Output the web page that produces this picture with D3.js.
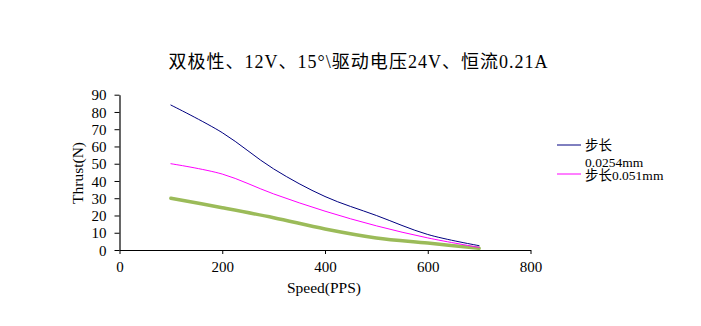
<!DOCTYPE html>
<html>
<head>
<meta charset="utf-8">
<script src="https://cdn.jsdelivr.net/npm/d3@7"></script>
<style>
  html, body { margin: 0; padding: 0; background: #fff; }
  svg text { font-family: "Liberation Serif", "Noto Sans CJK SC", serif; fill: #000; }
</style>
</head>
<body>
<svg id="chart" width="701" height="326"></svg>
<script>
// Thrust vs. speed for three step sizes
const speeds = [100, 200, 300, 400, 500, 600, 700];
const thrustStep0254 = [84, 68, 47, 31, 20, 9, 2.5];
const thrustStep051 = [50, 44, 32.5, 22.5, 14, 7, 1.5];
const thrustThird = [30, 24.5, 18.7, 12.2, 7, 4, 1];

const xTicks = [0, 200, 400, 600, 800];
const yTicks = [0, 10, 20, 30, 40, 50, 60, 70, 80, 90];

const titleText = "双极性、12V、15°\\驱动电压24V、恒流0.21A";
const xLabel = "Speed(PPS)";
const yLabel = "Thrust(N)";

const series = [
  { name: "步长0.0254mm", values: thrustStep0254, color: "#000080", width: 1 },
  { name: "步长0.051mm", values: thrustStep051, color: "#FF00FF", width: 1 },
  { name: "", values: thrustThird, color: "#9BBB59", width: 3.5 }
];

const svg = d3.select("#chart");
const plot = { left: 119.5, right: 530.5, top: 94.7, bottom: 250 };

const x = d3.scaleLinear().domain([0, 800]).range([plot.left, plot.right]);
const y = d3.scaleLinear().domain([0, 90]).range([plot.bottom, plot.top]);

// Title
svg.append("text")
  .attr("x", 358).attr("y", 68)
  .attr("text-anchor", "middle")
  .attr("font-size", 18)
  .attr("textLength", 379)
  .attr("lengthAdjust", "spacing")
  .text(titleText);

// Axes
const xAxis = svg.append("g")
  .attr("transform", `translate(0,${plot.bottom})`)
  .call(d3.axisBottom(x).tickValues(xTicks).tickSize(4).tickSizeOuter(0).tickFormat(d3.format("d")));
const yAxis = svg.append("g")
  .attr("transform", `translate(${plot.left},0)`)
  .call(d3.axisLeft(y).tickValues(yTicks).tickSize(5).tickSizeOuter(0).tickFormat(d3.format("d")));

[xAxis, yAxis].forEach(g => {
  g.select(".domain").attr("stroke", "#000").attr("stroke-width", 1.2);
  g.selectAll(".tick line").attr("stroke", "#000");
  g.selectAll(".tick text")
    .attr("font-family", "'Liberation Serif', serif")
    .attr("font-size", 15).attr("fill", "#000");
});
xAxis.selectAll(".tick text").attr("dy", null).attr("y", 22);
yAxis.selectAll(".tick text").attr("x", -13).attr("dy", "0.34em");

// Axis titles
svg.append("text")
  .attr("x", 324).attr("y", 293)
  .attr("text-anchor", "middle")
  .attr("font-size", 15.5)
  .text(xLabel);
svg.append("text")
  .attr("transform", "translate(83,173) rotate(-90)")
  .attr("text-anchor", "middle")
  .attr("font-size", 15.5)
  .text(yLabel);

// Smoothed series lines
const line = d3.line()
  .x((d, i) => x(speeds[i]))
  .y(d => y(d))
  .curve(d3.curveCatmullRom.alpha(0.5));

// draw thick series first so thin ones stay visible
[series[2], series[1], series[0]].forEach(s => {
  svg.append("path")
    .datum(s.values)
    .attr("fill", "none")
    .attr("stroke", s.color)
    .attr("stroke-width", s.width)
    .attr("stroke-linecap", "round")
    .attr("d", line);
});

// Legend (first label wraps onto a second line)
const legend = svg.append("g").attr("font-size", 13.5);
legend.append("line")
  .attr("x1", 557).attr("x2", 581).attr("y1", 145).attr("y2", 145)
  .attr("stroke", series[0].color).attr("stroke-width", 1);
legend.append("text").attr("x", 585).attr("y", 150).text(series[0].name.slice(0, 2));
legend.append("text").attr("x", 585).attr("y", 167).text(series[0].name.slice(2));
legend.append("line")
  .attr("x1", 557).attr("x2", 581).attr("y1", 174).attr("y2", 174)
  .attr("stroke", series[1].color).attr("stroke-width", 1);
legend.append("text").attr("x", 585).attr("y", 180).text(series[1].name);
</script>
</body>
</html>
